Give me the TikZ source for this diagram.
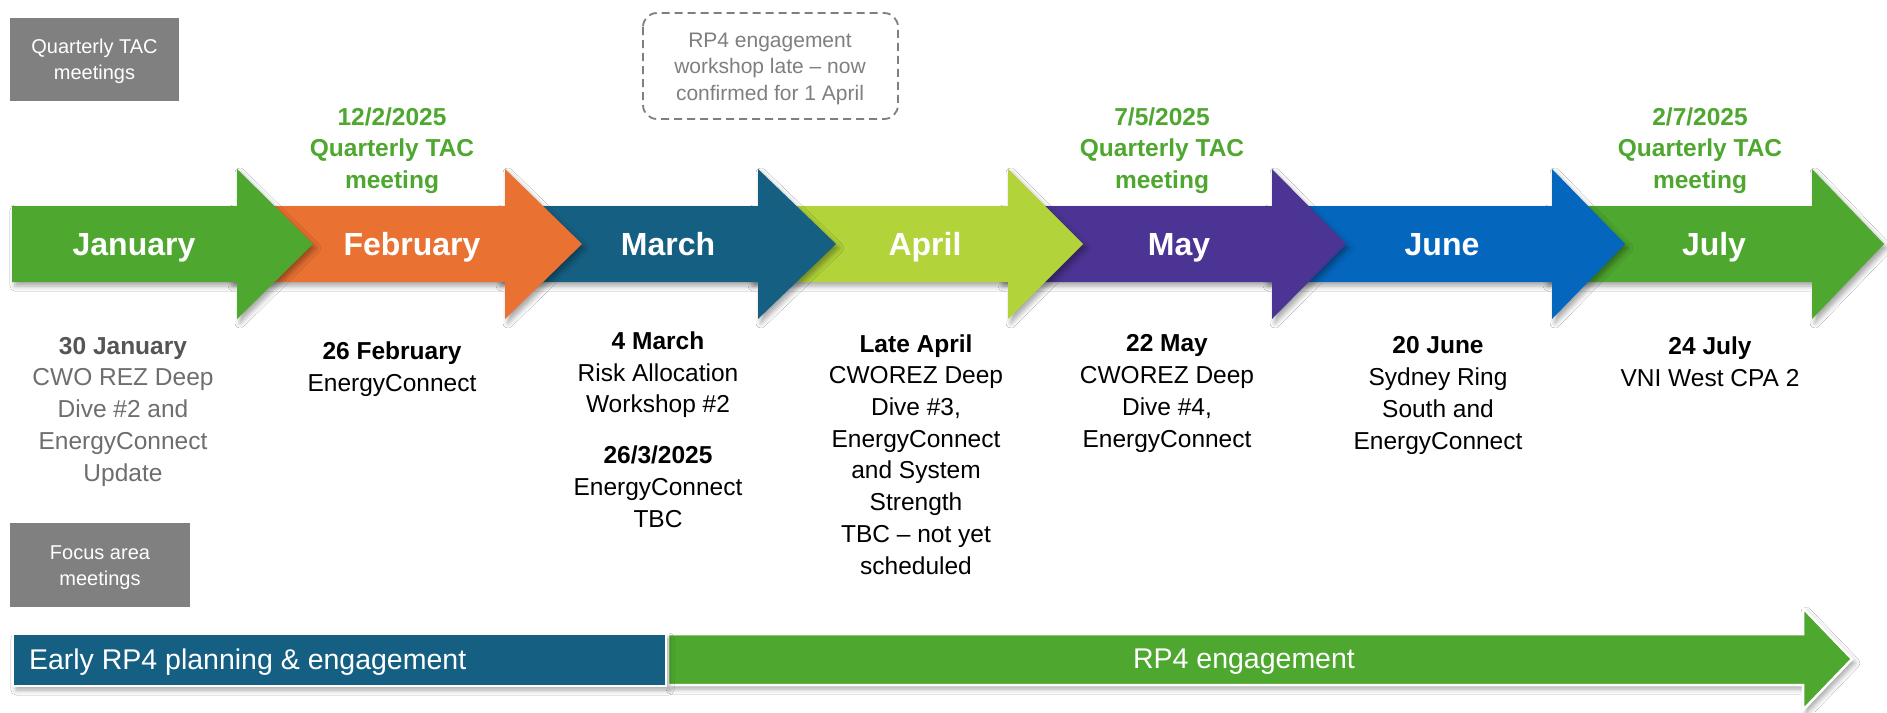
\documentclass[tikz,border=0pt]{standalone}
\usepackage{fontspec}
\setmainfont{Liberation Sans}
\usetikzlibrary{shadows.blur}
\definecolor{cgreen}{HTML}{4EA72E}
\definecolor{corange}{HTML}{E97132}
\definecolor{cteal}{HTML}{156082}
\definecolor{clime}{HTML}{B2D43A}
\definecolor{cpurple}{HTML}{4C3494}
\definecolor{cblue}{HTML}{0566BE}
\definecolor{cgrey}{HTML}{808080}
\definecolor{dgrey}{HTML}{555555}
\definecolor{lgrey}{HTML}{6E6E6E}
\definecolor{bgrey}{HTML}{7F7F7F}
\begin{document}
\begin{tikzpicture}[x=1pt,y=-1pt,
  every node/.style={inner sep=0pt, outer sep=0pt},
  monthlbl/.style={text=white, font=\fontsize{32}{38}\selectfont\bfseries, anchor=base},
  taclbl/.style={text=cgreen, font=\fontsize{24.5}{31.5}\selectfont\bfseries, align=center, anchor=base},
  desc/.style={text=black, font=\fontsize{24.5}{31.7}\selectfont, align=center, anchor=base},
  greybox/.style={fill=cgrey, draw=none},
  greytxt/.style={text=white, font=\fontsize{20}{26}\selectfont, align=center, anchor=base},
  arrshadow/.style={blur shadow={shadow xshift=3pt, shadow yshift=-4pt, shadow blur radius=5pt, shadow opacity=35}},
  bandtxt/.style={text=white, font=\fontsize{28.5}{34}\selectfont, anchor=base},
]
\useasboundingbox (0,0) rectangle (1887,712);
\fill[white] (0,0) rectangle (1887,712);

% legend boxes (text anchored at the baseline of the last line)
\fill[greybox] (10,18) rectangle (179,101);
\node[greytxt] (qtac) at (94.5,79) {Quarterly TAC\\meetings};
\fill[greybox] (10,523) rectangle (190,607);
\node[greytxt] (focus) at (100,585) {Focus area\\meetings};

% dashed note
\draw[bgrey, line width=1.8pt, dash pattern=on 8pt off 5pt, rounded corners=14pt] (643,13) rectangle (898,119);
\node[text=bgrey, font=\fontsize{21}{26.5}\selectfont, align=center, anchor=base] (note) at (770,100) {RP4 engagement\\workshop late -- now\\confirmed for 1 April};

% month arrows (right to left so earlier heads lie on top)
\path[fill=cgreen, arrshadow] (1545,206) -- (1812,206) -- (1812,169) -- (1884,244) -- (1812,319) -- (1812,282) -- (1545,282) -- cycle;
\path[fill=cblue, arrshadow] (1265,206) -- (1552,206) -- (1552,169) -- (1625,244) -- (1552,319) -- (1552,282) -- (1265,282) -- cycle;
\path[fill=cpurple, arrshadow] (1000,206) -- (1272,206) -- (1272,169) -- (1346,244) -- (1272,319) -- (1272,282) -- (1000,282) -- cycle;
\path[fill=clime, arrshadow] (750,206) -- (1008,206) -- (1008,169) -- (1083,244) -- (1008,319) -- (1008,282) -- (750,282) -- cycle;
\path[fill=cteal, arrshadow] (498,206) -- (758,206) -- (758,169) -- (836,244) -- (758,319) -- (758,282) -- (498,282) -- cycle;
\path[fill=corange, arrshadow] (230,206) -- (505,206) -- (505,169) -- (582,244) -- (505,319) -- (505,282) -- (230,282) -- cycle;
\path[fill=cgreen, arrshadow] (12,206) -- (237,206) -- (237,169) -- (313,244) -- (237,319) -- (237,282) -- (12,282) -- cycle;

\node[monthlbl] (jan) at (134,255) {January};
\node[monthlbl] (feb) at (412,255) {February};
\node[monthlbl] (mar) at (668,255) {March};
\node[monthlbl] (apr) at (925,255) {April};
\node[monthlbl] (may) at (1179,255) {May};
\node[monthlbl] (jun) at (1442,255) {June};
\node[monthlbl] (jul) at (1714,255) {July};

% TAC meeting labels
\node[taclbl] (tac1) at (392,188) {12/2/2025\\Quarterly TAC\\meeting};
\node[taclbl] (tac2) at (1162,188) {7/5/2025\\Quarterly TAC\\meeting};
\node[taclbl] (tac3) at (1700,188) {2/7/2025\\Quarterly TAC\\meeting};

% descriptions
\node[desc, text=lgrey] (djan) at (123,481) {\textbf{\color{dgrey}30 January}\\CWO REZ Deep\\Dive \#2 and\\EnergyConnect\\Update};
\node[desc] (dfeb) at (392,391) {\textbf{26 February}\\EnergyConnect};
\node[desc] (dmar) at (658,527) {\textbf{4 March}\\Risk Allocation\\Workshop \#2\\[19pt]\textbf{26/3/2025}\\EnergyConnect\\TBC};
\node[desc] (dapr) at (916,574) {\textbf{Late April}\\CWOREZ Deep\\Dive \#3,\\EnergyConnect\\and System\\Strength\\TBC -- not yet\\scheduled};
\node[desc] (dmay) at (1167,447) {\textbf{22 May}\\CWOREZ Deep\\Dive \#4,\\EnergyConnect};
\node[desc] (djun) at (1438,449) {\textbf{20 June}\\Sydney Ring\\South and\\EnergyConnect};
\node[desc] (djul) at (1710,386) {\textbf{24 July}\\VNI West CPA 2};

% bottom band
\path[fill=cgreen, draw=white, line width=2.5pt, arrshadow] (668,634) -- (1803,634) -- (1803,608) -- (1852,659) -- (1803,710) -- (1803,685) -- (668,685) -- cycle;
\path[fill=cteal, draw=white, line width=2pt, arrshadow] (13,634) rectangle (666,686);
\node[bandtxt, anchor=base west] (early) at (29,669) {Early RP4 planning \& engagement};
\node[bandtxt] (rp4) at (1244,668) {RP4 engagement};
\end{tikzpicture}
\end{document}
